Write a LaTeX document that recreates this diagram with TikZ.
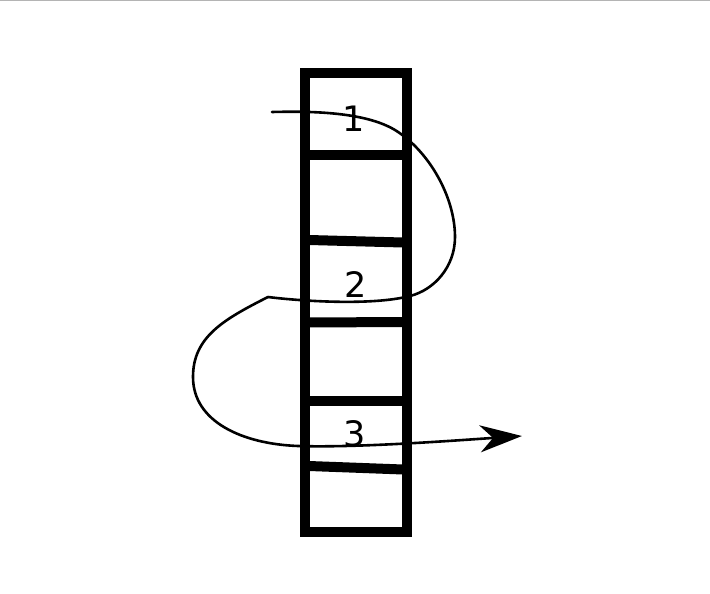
\documentclass[tikz,border=0pt]{standalone}
\usepackage{fontspec}
\setmainfont{DejaVu Sans}
\usetikzlibrary{arrows.meta}
\begin{document}
\begin{tikzpicture}[x=1pt,y=-1pt,
  frame/.style={line width=10pt,line join=miter},
  rung/.style={line width=10pt,line cap=butt},
  route/.style={line width=2.6pt,line cap=round,line join=round},
  num/.style={font=\fontsize{35}{35}\selectfont,inner sep=0pt}]
\useasboundingbox (0,0) rectangle (710,594);
\fill[white] (0,0) rectangle (710,594);
\draw[line width=1.5pt,color={rgb,255:red,180;green,180;blue,180}] (0,0.75) -- (710,0.75);
% ladder
\draw[frame] (304.5,73.5) rectangle (406.5,531.5);
\draw[rung] (309,155) -- (403,155);
\draw[rung] (309,240) -- (403,242.5);
\draw[rung] (309,322.5) -- (403,322);
\draw[rung] (309,401) -- (403,401);
\draw[rung] (309,466) -- (403,469.5);
% route
\coordinate (s) at (272,112);
\coordinate (a) at (395,130);
\coordinate (b) at (455,237);
\coordinate (c) at (410,296);
\coordinate (k) at (268,297);
\coordinate (d) at (193,377);
\coordinate (e) at (298,446);
\coordinate (t) at (522,436);
\draw[route] (s) .. controls (312,111) and (365,112) .. (a)
  .. controls (429,151) and (455,197) .. (b)
  .. controls (455,267) and (434,290) .. (c)
  .. controls (371,306) and (300,301) .. (k);
\draw[route,-{Stealth[length=42pt,width=27pt,inset=13pt]}] (k)
  .. controls (223.5,319.5) and (193,337) .. (d)
  .. controls (193,422) and (243,444) .. (e)
  .. controls (358,448) and (462,440) .. (t);
% labels
\node[num] (n1) at (354,119) {1};
\node[num] (n2) at (356,284.5) {2};
\node[num] (n3) at (354.5,434) {3};
\end{tikzpicture}
\end{document}
